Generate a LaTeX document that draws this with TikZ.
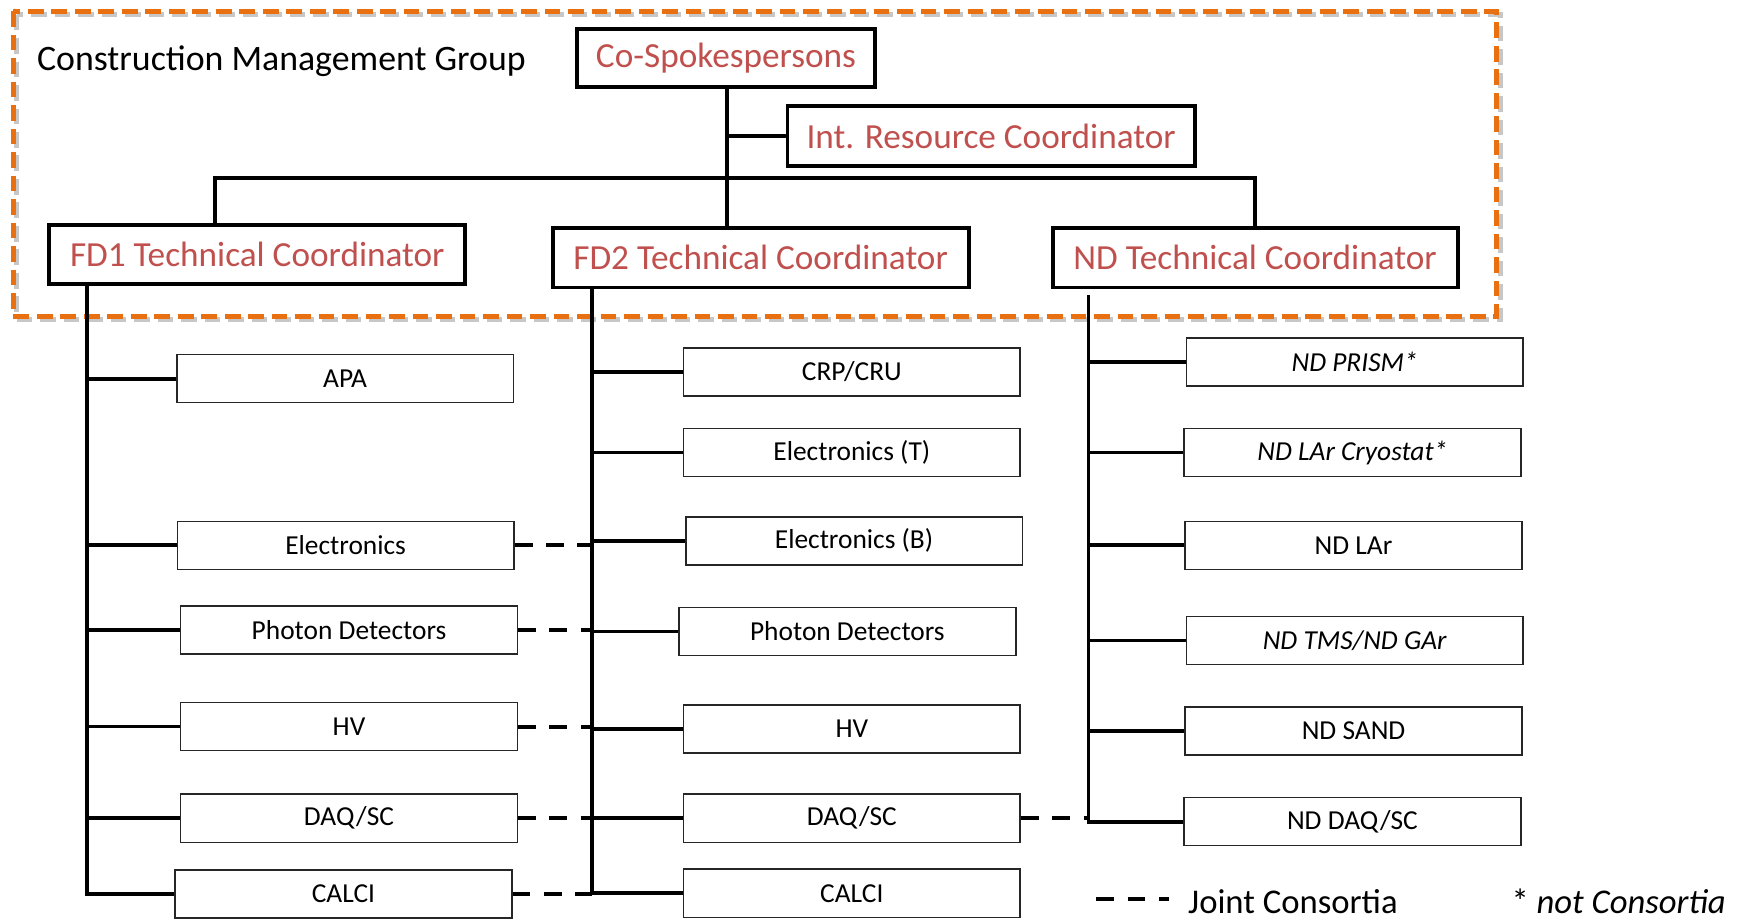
\documentclass[tikz,border=0pt]{standalone}
\usepackage{fontspec}
\setmainfont{Carlito}
\definecolor{cred}{RGB}{192,80,77}
\definecolor{corange}{RGB}{232,112,16}
\begin{document}
\begin{tikzpicture}[x=1pt,y=-1pt,
 topbox/.style={draw=black, line width=3.5pt, text=cred, font=\fontsize{31.5}{36}\selectfont, inner sep=0pt, fill=white},
 subbox/.style={draw=black!85, line width=1.4pt, font=\fontsize{24.5}{29}\selectfont, minimum width=301pt, minimum height=43pt, inner sep=0pt},
 link/.style={line width=3.4pt},
 joint/.style={line width=3.6pt, dash pattern=on 16pt off 12pt},
 grouplabel/.style={font=\fontsize{32}{36}\selectfont, inner sep=0pt, anchor=west},
]
\useasboundingbox (0,0) rectangle (1568,822);

% group frame with soft shadow
\draw[line width=4.5pt, black, opacity=0.22, dash pattern=on 14pt off 7pt] (15,13) rectangle (1341,286);
\draw[line width=4.5pt, corange, dash pattern=on 14pt off 7pt] (12,10) rectangle (1338,283);

\node[grouplabel] (cmg) at (33,55) {Construction Management Group};

% top level
\node[topbox, minimum width=266pt, minimum height=52pt] (cs) at (649,52) {Co-Spokespersons};
\node[topbox, minimum width=364pt, minimum height=53pt] (ir) at (886,121.5) {Int. Resource Coordinator};
\node[topbox, minimum width=372pt, minimum height=53pt] (fd1) at (230,227.5) {FD1 Technical Coordinator};
\node[topbox, minimum width=372pt, minimum height=53pt] (fd2) at (680,230.5) {FD2 Technical Coordinator};
\node[topbox, minimum width=362pt, minimum height=53pt] (nd) at (1122,230.5) {ND Technical Coordinator};

\coordinate (cx) at (650,78);
\coordinate (j1) at (192,159);
\coordinate (j3) at (1122,159);
\draw[link] (cx) -- (cx |- fd2.north);
\draw[link] (cx |- ir.west) -- (ir.west);
\draw[link] (j1 |- fd1.north) -- (j1) -- (j3) -- (j3 |- nd.north);

% FD1 column
\node[subbox] (apa) at (308.5,338.5) {APA};
\node[subbox] (el1) at (309,487.5) {Electronics};
\node[subbox] (pd1) at (312,563) {Photon Detectors};
\node[subbox] (hv1) at (312,649.5) {HV};
\node[subbox] (daq1) at (312,731.5) {DAQ/SC};
\node[subbox] (cal1) at (307,799) {CALCI};

% FD2 column
\node[subbox] (crp) at (761.5,332.5) {CRP/CRU};
\node[subbox] (elt) at (761.5,404.5) {Electronics (T)};
\node[subbox] (elb) at (763.5,483.5) {Electronics (B)};
\node[subbox] (pd2) at (757.5,564.5) {Photon Detectors};
\node[subbox] (hv2) at (761.5,651.5) {HV};
\node[subbox] (daq2) at (761.5,731.5) {DAQ/SC};
\node[subbox] (cal2) at (761.5,798.5) {CALCI};

% ND column
\node[subbox] (prism) at (1211,323.5) {\itshape ND PRISM*};
\node[subbox] (cryo) at (1209,404.5) {\itshape ND LAr Cryostat*};
\node[subbox] (lar) at (1210,487.5) {ND LAr};
\node[subbox] (tms) at (1211,572.5) {\itshape ND TMS/ND GAr};
\node[subbox] (sand) at (1210,653.5) {ND SAND};
\node[subbox] (ndaq) at (1209,734.5) {ND DAQ/SC};

% trunks
\coordinate (t1) at (78,800);
\coordinate (t2) at (529,798);
\coordinate (t3) at (973,735);
\draw[link] (t1 |- fd1.south) -- (t1 |- cal1.west) -- (cal1.west);
\draw[link] (t2 |- fd2.south) -- (t2 |- cal2.west) -- (cal2.west);
\draw[link] ([yshift=-5pt]t3 |- nd.south) -- (t3 |- ndaq.west) -- (ndaq.west);

% branches
\foreach \b in {apa,el1,pd1,hv1,daq1}
  \draw[link] (t1 |- \b.west) -- (\b.west);
\foreach \b in {crp,elt,elb,pd2,hv2,daq2}
  \draw[link] (t2 |- \b.west) -- (\b.west);
\foreach \b in {prism,cryo,lar,tms,sand}
  \draw[link] (t3 |- \b.west) -- (\b.west);

% joint consortia
\foreach \b in {el1,pd1,hv1,daq1,cal1}
  \draw[joint] (\b.east) -- (t2 |- \b.east);
\draw[joint] (daq2.east) -- (t3 |- daq2.east);

% legend
\coordinate (l1) at (980,804);
\coordinate (l2) at (1045,804);
\draw[joint] (l1) -- (l2);
\node[grouplabel, font=\fontsize{31}{35}\selectfont] (leg1) at (1062,806) {Joint Consortia};
\node[grouplabel, font=\fontsize{31}{35}\selectfont] (leg2) at (1351,806) {* \textit{not Consortia}};
\end{tikzpicture}
\end{document}
